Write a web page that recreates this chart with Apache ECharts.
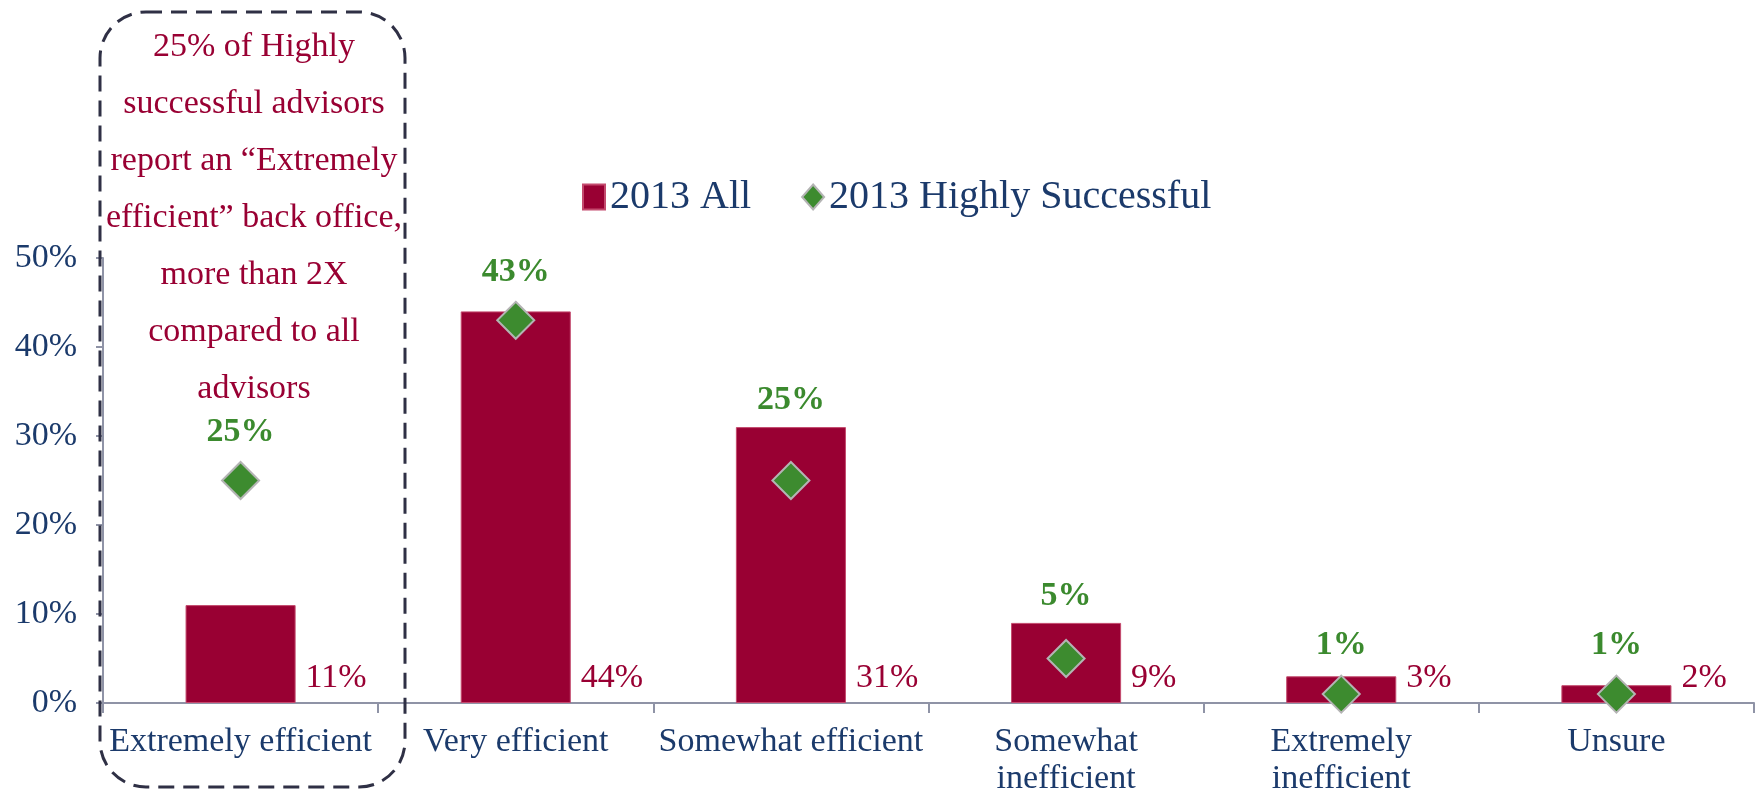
<!DOCTYPE html>
<html>
<head>
<meta charset="utf-8">
<script src="https://cdn.jsdelivr.net/npm/echarts@6/dist/echarts.min.js"></script>
<style>
html,body{margin:0;padding:0;background:#fff;}
#c{width:1756px;height:790px;}
</style>
</head>
<body>
<div id="c"></div>
<script>
var categories = ['Extremely efficient', 'Very efficient', 'Somewhat efficient', 'Somewhat\ninefficient', 'Extremely\ninefficient', 'Unsure'];
var allValues = [11, 44, 31, 9, 3, 2];
var highlyValues = [25, 43, 25, 5, 1, 1];
var yTicks = [0, 10, 20, 30, 40, 50];
var seriesNames = ['2013 All', '2013 Highly Successful'];
var noteLines = ['25% of Highly', 'successful advisors', 'report an \u201cExtremely', 'efficient\u201d back office,', 'more than 2X', 'compared to all', 'advisors'];

var FONT = '"Liberation Serif", "DejaVu Serif", serif';
var NAVY = '#1b3a6b';
var RED = '#990033';
var GREEN = '#3b8a2e';
var AXIS = '#8f93a6';
var DIAMOND = 37;

function greenLabel(distance, text) {
  return {
    show: true,
    position: 'top',
    distance: distance,
    formatter: text,
    color: GREEN,
    opacity: 1,
    fontFamily: FONT,
    fontSize: 34,
    fontWeight: 'bold'
  };
}

var chart = echarts.init(document.getElementById('c'));
chart.setOption({
  animation: false,
  textStyle: {fontFamily: FONT},
  grid: {left: 103, right: 2, top: 258, bottom: 87, containLabel: false, outerBoundsMode: 'none'},
  legend: {
    left: 577, top: 172,
    itemWidth: 22, itemHeight: 25, itemGap: 50,
    textStyle: {fontFamily: FONT, fontSize: 40, color: NAVY},
    data: [{name: seriesNames[0], icon: 'rect'}, {name: seriesNames[1], icon: 'diamond'}]
  },
  xAxis: {
    type: 'category',
    data: categories,
    axisLine: {lineStyle: {color: AXIS, width: 2}},
    axisTick: {show: true, length: 10, lineStyle: {color: AXIS, width: 2}},
    axisLabel: {interval: 0, margin: 21, color: NAVY, fontFamily: FONT, fontSize: 34, lineHeight: 37}
  },
  yAxis: {
    type: 'value',
    min: yTicks[0], max: yTicks[yTicks.length - 1], interval: yTicks[1] - yTicks[0],
    splitLine: {show: false},
    axisLine: {show: true, lineStyle: {color: AXIS, width: 2}},
    axisTick: {show: true, length: 7, lineStyle: {color: AXIS, width: 2}},
    axisLabel: {margin: 26, color: NAVY, fontFamily: FONT, fontSize: 34, formatter: '{value}%'}
  },
  series: [
    {
      name: seriesNames[0],
      type: 'bar',
      data: allValues,
      barWidth: '40%',
      itemStyle: {color: RED, borderColor: '#c44a6e', borderWidth: 1},
      label: {
        show: true,
        position: ['100%', '100%'],
        offset: [10, -25],
        align: 'left',
        verticalAlign: 'middle',
        formatter: '{c}%',
        color: RED,
        fontFamily: FONT,
        fontSize: 34
      },
      emphasis: {disabled: true},
      z: 2
    },
    {
      name: seriesNames[1],
      type: 'scatter',
      data: highlyValues,
      symbol: 'diamond',
      symbolSize: [DIAMOND, DIAMOND],
      itemStyle: {color: '#3d8b2f', borderColor: '#b4b4b4', borderWidth: 2, opacity: 1},
      label: {show: false},
      emphasis: {disabled: true},
      z: 3
    }
  ],
  graphic: [
    {
      type: 'rect',
      z: 10,
      shape: {x: 100, y: 12, width: 305, height: 775, r: 46},
      style: {fill: 'none', stroke: '#2f3045', lineWidth: 3, lineDash: [16, 9]}
    },
    {
      type: 'text',
      z: 10,
      x: 254, y: 19,
      style: {
        text: noteLines.join('\n'),
        align: 'center',
        verticalAlign: 'top',
        fill: RED,
        font: '34px ' + FONT,
        lineHeight: 57
      }
    }
  ]
});

// Green value labels sit above whichever is higher: the diamond's top or the bar's top.
var pxPerUnit = chart.convertToPixel({yAxisIndex: 0}, 0) - chart.convertToPixel({yAxisIndex: 0}, 1);
var halfDiamond = (DIAMOND / 2) / pxPerUnit;
var diamondData = [];
var labelOnBarData = [];
for (var i = 0; i < categories.length; i++) {
  var diamondHigher = highlyValues[i] + halfDiamond > allValues[i];
  var txt = highlyValues[i] + '%';
  diamondData.push({value: highlyValues[i], label: diamondHigher ? greenLabel(12, txt) : {show: false}});
  labelOnBarData.push(diamondHigher ? {value: '-', label: {show: false}} :
    {value: allValues[i], label: greenLabel(9, txt)});
}
chart.setOption({
  series: [
    {},
    {data: diamondData},
    {
      name: 'labels',
      type: 'scatter',
      symbol: 'circle',
      symbolSize: 1,
      itemStyle: {color: 'rgba(0,0,0,0)', opacity: 1},
      data: labelOnBarData,
      silent: true,
      emphasis: {disabled: true},
      z: 4
    }
  ]
});
</script>
</body>
</html>
